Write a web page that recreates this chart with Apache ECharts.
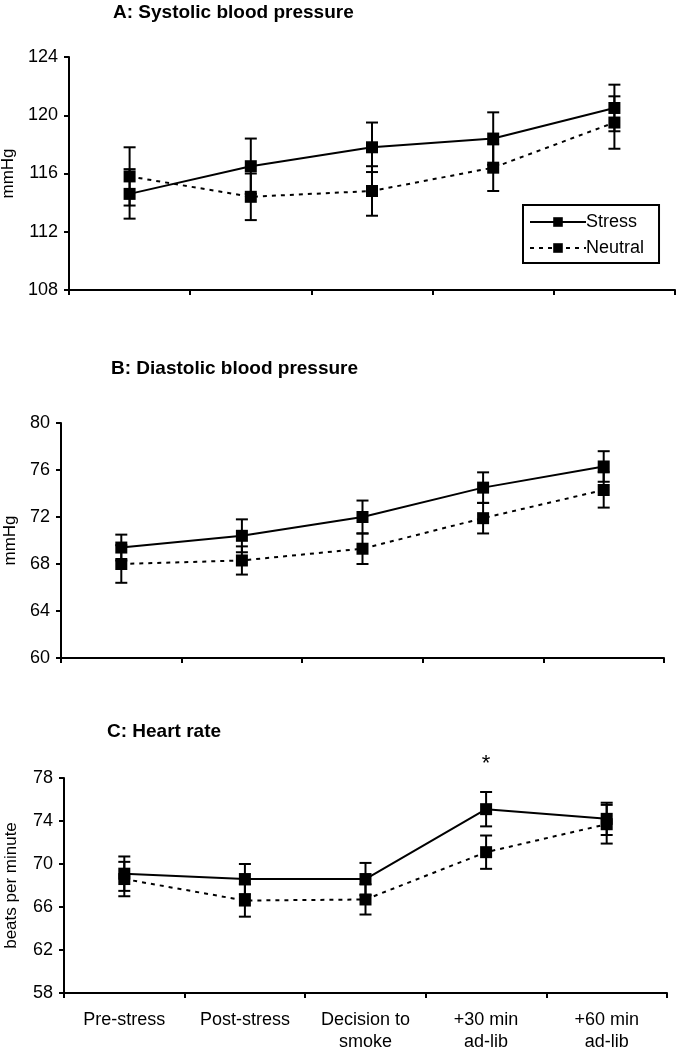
<!DOCTYPE html>
<html><head><meta charset="utf-8">
<script src="https://cdn.jsdelivr.net/npm/echarts@6/dist/echarts.min.js"></script>
<style>html,body{margin:0;padding:0;background:#fff}#c{width:679px;height:1050px}</style>
</head><body><div id="c"></div>
<script>
const categories = ['Pre-stress', 'Post-stress', 'Decision to\nsmoke', '+30 min\nad-lib', '+60 min\nad-lib'];

const sbpStress = [114.6, 116.5, 117.8, 118.4, 120.5];
const sbpStressErr = [1.7, 1.9, 1.7, 1.8, 1.6];
const sbpNeutral = [115.8, 114.4, 114.8, 116.4, 119.5];
const sbpNeutralErr = [2.0, 1.6, 1.7, 1.6, 1.8];

const dbpStress = [69.4, 70.4, 72.0, 74.5, 76.3];
const dbpStressErr = [1.1, 1.4, 1.4, 1.3, 1.3];
const dbpNeutral = [68.0, 68.3, 69.3, 71.9, 74.3];
const dbpNeutralErr = [1.6, 1.2, 1.3, 1.3, 1.5];

const hrStress = [69.1, 68.6, 68.6, 75.1, 74.2];
const hrStressErr = [1.6, 1.4, 1.5, 1.6, 1.5];
const hrNeutral = [68.6, 66.6, 66.7, 71.1, 73.7];
const hrNeutralErr = [1.6, 1.5, 1.4, 1.55, 1.8];

const significantIndex = [3];

const panelTitles = ['A: Systolic blood pressure', 'B: Diastolic blood pressure', 'C: Heart rate'];
const yNames = ['mmHg', 'mmHg', 'beats per minute'];
const yRanges = [[108, 124], [60, 80], [58, 78]];

const FONT = '"Liberation Sans", Arial, sans-serif';
const grids = [
  {left: 69, right: 4, top: 57, height: 233, outerBoundsMode: 'none', containLabel: false},
  {left: 61, right: 15, top: 423, height: 235, outerBoundsMode: 'none', containLabel: false},
  {left: 64, right: 12, top: 778, height: 215, outerBoundsMode: 'none', containLabel: false}
];

function errData(vals, errs) {
  return vals.map((v, i) => [i, v - errs[i], v + errs[i]]);
}
function errSeries(idx, vals, errs) {
  return {
    type: 'custom', xAxisIndex: idx, yAxisIndex: idx, z: 1, silent: true,
    data: errData(vals, errs), encode: {x: 0, y: [1, 2]},
    renderItem: function (params, api) {
      const lo = api.coord([api.value(0), api.value(1)]);
      const hi = api.coord([api.value(0), api.value(2)]);
      const w = 6;
      const st = {stroke: '#000', lineWidth: 2};
      return {type: 'group', children: [
        {type: 'line', shape: {x1: lo[0], y1: lo[1], x2: hi[0], y2: hi[1]}, style: st},
        {type: 'line', shape: {x1: lo[0] - w, y1: lo[1], x2: lo[0] + w, y2: lo[1]}, style: st},
        {type: 'line', shape: {x1: hi[0] - w, y1: hi[1], x2: hi[0] + w, y2: hi[1]}, style: st}
      ]};
    }
  };
}
function lineSeries(idx, name, vals, dashed) {
  return {
    type: 'line', name: name, xAxisIndex: idx, yAxisIndex: idx, z: 3,
    data: vals, symbol: 'rect', symbolSize: 12, showSymbol: true,
    itemStyle: {color: '#000'},
    lineStyle: {color: '#000', width: 2, type: dashed ? [4, 5] : 'solid'},
    emphasis: {disabled: true}, animation: false
  };
}

const xAxes = grids.map((g, i) => ({
  type: 'category', gridIndex: i, data: categories, boundaryGap: true,
  axisLine: {lineStyle: {color: '#000', width: 2}},
  axisTick: {show: true, length: 5, lineStyle: {color: '#000', width: 2}},
  axisLabel: {show: i === 2, color: '#000', fontFamily: FONT, fontSize: 18, lineHeight: 22, margin: 16, interval: 0}
}));
const yAxes = grids.map((g, i) => ({
  type: 'value', gridIndex: i, min: yRanges[i][0], max: yRanges[i][1], interval: 4,
  name: yNames[i], nameLocation: 'middle', nameGap: [49, 41, 44][i], nameRotate: 90,
  nameTextStyle: {color: '#000', fontFamily: FONT, fontSize: 17},
  axisLine: {show: true, lineStyle: {color: '#000', width: 2}},
  axisTick: {show: true, length: 5, lineStyle: {color: '#000', width: 2}},
  splitLine: {show: false},
  axisLabel: {color: '#000', fontFamily: FONT, fontSize: 18, margin: 11}
}));

const series = [
  errSeries(0, sbpStress, sbpStressErr), errSeries(0, sbpNeutral, sbpNeutralErr),
  lineSeries(0, 'Stress', sbpStress, false), lineSeries(0, 'Neutral', sbpNeutral, true),
  errSeries(1, dbpStress, dbpStressErr), errSeries(1, dbpNeutral, dbpNeutralErr),
  lineSeries(1, 'Stress', dbpStress, false), lineSeries(1, 'Neutral', dbpNeutral, true),
  errSeries(2, hrStress, hrStressErr), errSeries(2, hrNeutral, hrNeutralErr),
  lineSeries(2, 'Stress', hrStress, false), lineSeries(2, 'Neutral', hrNeutral, true),
  {
    type: 'custom', xAxisIndex: 2, yAxisIndex: 2, z: 4, silent: true, clip: false,
    data: significantIndex.map(i => [i, hrStress[i] + hrStressErr[i]]),
    renderItem: function (params, api) {
      const p = api.coord([api.value(0), api.value(1)]);
      return {type: 'text', x: p[0], y: p[1] - 28, style: {text: '*', fill: '#000', font: '22px ' + FONT, align: 'center', verticalAlign: 'middle'}};
    }
  }
];

const chart = echarts.init(document.getElementById('c'), null, {renderer: 'canvas'});
chart.setOption({
  animation: false,
  backgroundColor: '#fff',
  title: panelTitles.map((t, i) => ({
    text: t, left: [108, 106, 102][i], top: [-2, 354, 717][i],
    textStyle: {color: '#000', fontFamily: FONT, fontWeight: 'bold', fontSize: 19}
  })),
  legend: {
    data: ['Stress', 'Neutral'], orient: 'vertical', left: 523, top: 205,
    itemWidth: 56, itemHeight: 12, itemGap: 8,
    padding: [8, 15, 6, 6], borderColor: '#000', borderWidth: 2,
    textStyle: {color: '#000', fontFamily: FONT, fontSize: 18, padding: [0, 0, 0, -5]},
    selectedMode: false
  },
  grid: grids,
  xAxis: xAxes,
  yAxis: yAxes,
  series: series
});
</script></body></html>
